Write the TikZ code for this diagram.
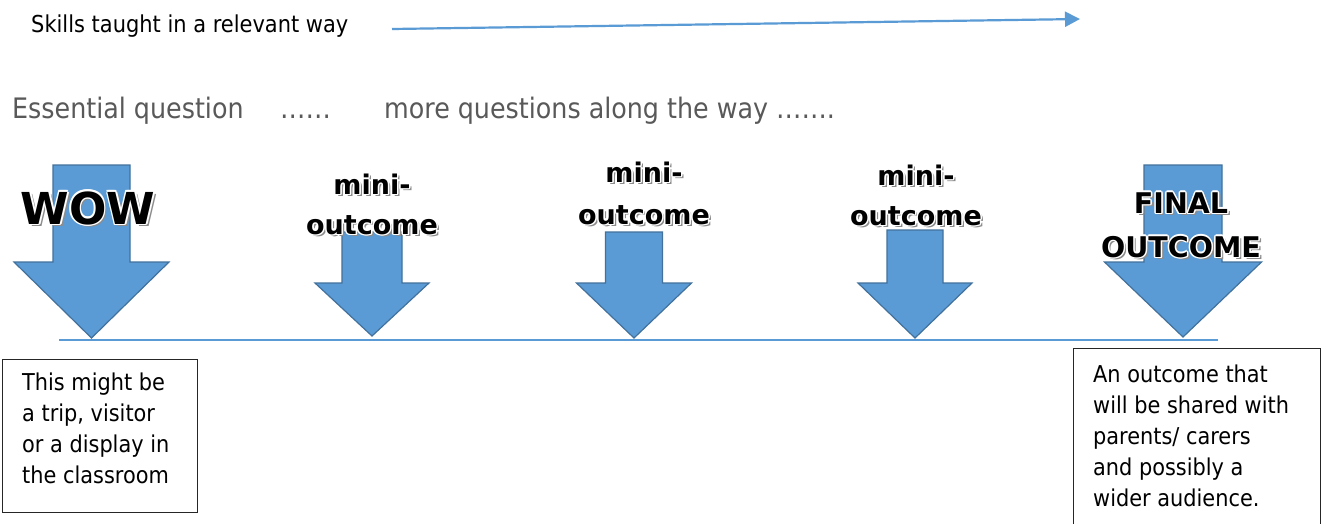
\documentclass[tikz,border=0pt]{standalone}
\usepackage{fontspec}
\setmainfont{DejaVu Sans}
\newfontfamily\condfont{DejaVu Sans Condensed}
\usetikzlibrary{arrows.meta}
\definecolor{abl}{HTML}{5B9BD5}
\definecolor{abd}{HTML}{41719C}
\definecolor{tgrey}{HTML}{595959}
\tikzset{
  blockarrow/.style={fill=abl, draw=abd, line width=1.2pt, line join=miter},
  wa/.style={inner sep=0pt, align=center},
  plaintxt/.style={inner sep=0pt, align=left, font=\condfont\fontsize{23.2}{31}\selectfont},
  textbox/.style={draw=black!85, line width=1pt, inner sep=0pt, anchor=north west},
  bigq/.style={inner sep=0pt, anchor=base west, text=tgrey, font=\condfont\fontsize{28.2}{34}\selectfont},
}
\newcommand\wafont[2]{\bfseries\fontsize{#1}{#2}\selectfont}
% block arrow: cx, shaft half width, shaft top, head top, head half width, tip y
\newcommand\blkarrow[6]{%
  \draw[blockarrow] (#1-#2,#3) -- (#1+#2,#3) -- (#1+#2,#4) -- (#1+#5,#4) -- (#1,#6)
    -- (#1-#5,#4) -- (#1-#2,#4) -- cycle;}
% word-art text: name, position, size, baselineskip, text
\newcommand\wart[5]{%
  \node[wa, text=black!45, xshift=2.6pt, yshift=-2.6pt, font=\wafont{#3}{#4}] at (#2) {#5};
  \foreach \dx/\dy in {1.5/0,-1.5/0,0/1.5,0/-1.5,1.1/1.1,1.1/-1.1,-1.1/1.1,-1.1/-1.1}
    {\node[wa, text=white, xshift=\dx pt, yshift=\dy pt, font=\wafont{#3}{#4}] at (#2) {#5};}
  \node[wa, text=black, font=\wafont{#3}{#4}] (#1) at (#2) {#5};}
\begin{document}
\begin{tikzpicture}[x=1pt, y=-1pt]
\useasboundingbox[fill=white] (0,0) rectangle (1325,523);

% top line
\node[inner sep=0pt, anchor=base west, font=\condfont\fontsize{23.3}{27}\selectfont] (skills) at (31,32) {Skills taught in a relevant way};
\coordinate (sa) at (392,29);
\coordinate (ea) at (1080,19);
\draw[abl, line width=2.2pt, -{Triangle[length=15pt, width=15pt]}] (sa) -- (ea);

% questions
\node[bigq] (eq) at (12,118) {Essential question};
\node[bigq] (dots) at (280,118) {……};
\node[bigq] (more) at (384,118) {more questions along the way …….};

% block arrows
\blkarrow{91.5}{38.5}{165}{262}{77.5}{338}
\blkarrow{372}{30}{232}{283}{57}{336}
\blkarrow{634}{28.5}{232}{283}{57.5}{338}
\blkarrow{915}{28}{230}{283}{57}{338}
\blkarrow{1183}{39}{165}{262}{78.5}{337}

% timeline
\coordinate (bl) at (59,340);
\coordinate (br) at (1218,340);
\draw[abl, line width=1.5pt] (bl) -- (br);

% word art labels
\wart{wow}{88,208}{44}{50}{WOW}
\wart{mini1}{372,204}{27}{40}{mini-\\outcome}
\wart{mini2}{644,193}{27}{42}{mini-\\outcome}
\wart{mini3}{916,195}{27}{40}{mini-\\outcome}
\wart{final}{1181,225}{28.5}{44}{FINAL\\OUTCOME}

% boxes
\node[textbox, minimum width=195pt, minimum height=153pt] (lbox) at (2,359) {};
\node[plaintxt, anchor=north west] (ltext) at (22,372.5) {This might be\\a trip, visitor\\or a display in\\the classroom};
\node[textbox, minimum width=247pt, minimum height=200pt] (rbox) at (1073,348) {};
\node[plaintxt, anchor=north west] (rtext) at (1093,364.5) {An outcome that\\will be shared with\\parents/ carers\\and possibly a\\wider audience.};
\end{tikzpicture}
\end{document}
